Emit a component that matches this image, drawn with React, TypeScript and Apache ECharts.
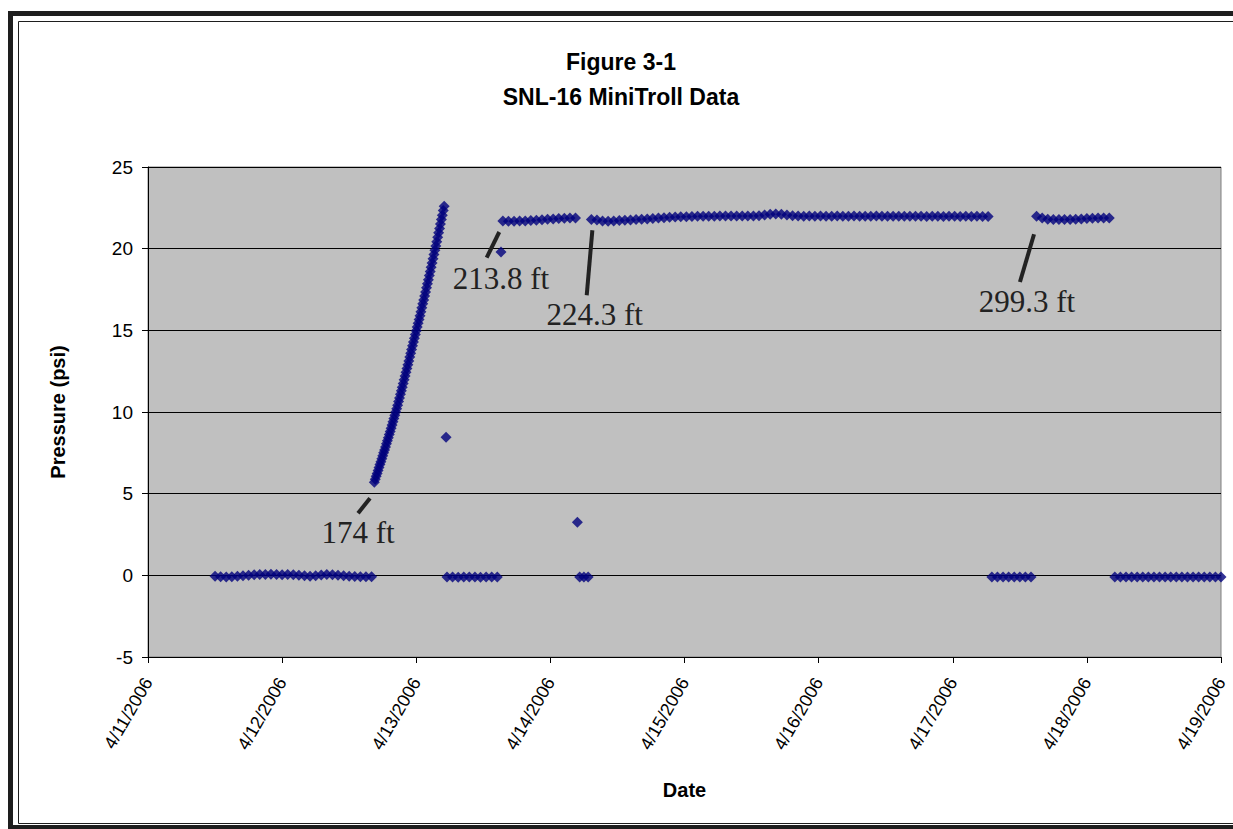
import React, { useEffect, useRef } from "react";
import * as echarts from "echarts";

// ---------- data (times as [day of April, hour, minute], step in minutes) ----------
const xTickLabels = ["4/11/2006", "4/12/2006", "4/13/2006", "4/14/2006", "4/15/2006", "4/16/2006", "4/17/2006", "4/18/2006", "4/19/2006"];
const yMin = -5;
const yMax = 25;
const yStep = 5;

const baseline1Start = [11, 12, 0];
const baseline1Step = 60;
const baseline1 = [-0.05, -0.08, -0.1, -0.08, -0.05, -0.02, 0.0, 0.03, 0.05, 0.05, 0.06, 0.05, 0.04, 0.05, 0.03, 0.0, -0.03, -0.05, -0.02, 0.02, 0.05, 0.03, 0.0, -0.03, -0.05, -0.07, -0.08, -0.08, -0.08];

const rampStart = [12, 16, 30];
const rampStep = 10;
const ramp = [
  5.7,
  5.88, 6.06, 6.24, 6.42, 6.6, 6.78,
  6.96, 7.14, 7.32, 7.5, 7.68, 7.86,
  8.05, 8.24, 8.43, 8.62, 8.81, 9.0,
  9.2, 9.4, 9.6, 9.8, 10.0, 10.2,
  10.42, 10.64, 10.86, 11.08, 11.3, 11.52,
  11.75, 11.98, 12.21, 12.44, 12.67, 12.9,
  13.13, 13.36, 13.59, 13.82, 14.05, 14.28,
  14.51, 14.74, 14.97, 15.2, 15.43, 15.66,
  15.9, 16.14, 16.38, 16.62, 16.86, 17.1,
  17.35, 17.6, 17.85, 18.1, 18.35, 18.6,
  18.86, 19.12, 19.38, 19.64, 19.9, 20.16,
  20.43, 20.7, 20.97, 21.24, 21.51, 21.78,
  22.05, 22.33, 22.6,
];

const baseline2Start = [13, 5, 30];
const baseline2Step = 60;
const baseline2 = [-0.1, -0.1, -0.12, -0.1, -0.1, -0.1, -0.12, -0.1, -0.1, -0.1];

const plateauAStart = [13, 15, 30];
const plateauAStep = 60;
const plateauA = [21.7, 21.68, 21.68, 21.7, 21.7, 21.72, 21.74, 21.77, 21.8, 21.82, 21.84, 21.86, 21.87, 21.88];

const baseline3Start = [14, 5, 15];
const baseline3Step = 45;
const baseline3 = [-0.1, -0.1, -0.1];

const plateauBStart = [14, 7, 20];
const plateauBStep = 60;
const plateauB = [21.78, 21.75, 21.7, 21.68, 21.7, 21.72, 21.74, 21.76, 21.78, 21.8, 21.82, 21.85, 21.88, 21.9, 21.92, 21.94, 21.95, 21.96, 21.97, 21.98, 21.98, 21.98, 21.99, 22.0, 22.0, 22.0, 22.0, 22.0, 22.0, 22.0, 22.02, 22.06, 22.1, 22.12, 22.1, 22.06, 22.02, 22.0, 21.99, 22.0, 21.98, 22.0, 21.99, 21.99, 22.0, 21.98, 21.99, 22.0, 21.99, 21.98, 21.99, 22.0, 21.99, 21.98, 21.98, 21.99, 21.98, 21.99, 21.98, 21.98, 21.97, 21.98, 21.98, 21.97, 21.98, 21.98, 21.97, 21.98, 21.97, 21.98, 21.97, 21.97];

const baseline4Start = [17, 7, 0];
const baseline4Step = 60;
const baseline4 = [-0.1, -0.1, -0.1, -0.1, -0.1, -0.1, -0.1, -0.1];

const plateauCStart = [17, 15, 0];
const plateauCStep = 60;
const plateauC = [21.98, 21.88, 21.8, 21.78, 21.78, 21.78, 21.79, 21.8, 21.82, 21.84, 21.86, 21.87, 21.88, 21.88];

const baseline5Start = [18, 5, 0];
const baseline5Step = 60;
const baseline5 = [-0.1, -0.1, -0.1, -0.1, -0.1, -0.1, -0.1, -0.1, -0.1, -0.1, -0.1, -0.1, -0.1, -0.1, -0.1, -0.1, -0.1, -0.1, -0.1, -0.1];

// single stray readings: [day, hour, minute, psi]
const strayReadings = [
  [13, 5, 20, 8.45],
  [13, 15, 10, 19.8],
  [14, 4, 50, 3.25],
];

// depth annotations: text, leader line from (x1,y1) to (x2,y2) in data units, label centre
const annotationTexts = ["174 ft", "213.8 ft", "224.3 ft", "299.3 ft"];
const annotationLineStart = [[1.655, 4.72], [2.619, 21.02], [3.313, 21.13], [6.606, 20.88]];
const annotationLineEnd = [[1.566, 3.8], [2.525, 19.45], [3.271, 17.15], [6.501, 17.96]];
const annotationLabelAt = [[1.566, 2.6], [2.632, 18.2], [3.33, 15.95], [6.553, 16.78]];

// ---------- helpers ----------
const toX = (day: number, minutes: number) => day - 11 + minutes / 1440;

function segmentPoints(start: number[], step: number, values: number[]) {
  const base = start[1] * 60 + start[2];
  return values.map((v, i) => [toX(start[0], base + i * step), v]);
}

export default function App() {
  const ref = useRef<HTMLDivElement>(null);

  useEffect(() => {
    if (!ref.current) return;
    const chart = echarts.init(ref.current, undefined, { renderer: "svg" });

    const points = [
      ...segmentPoints(baseline1Start, baseline1Step, baseline1),
      ...segmentPoints(rampStart, rampStep, ramp),
      ...segmentPoints(baseline2Start, baseline2Step, baseline2),
      ...segmentPoints(plateauAStart, plateauAStep, plateauA),
      ...segmentPoints(baseline3Start, baseline3Step, baseline3),
      ...segmentPoints(plateauBStart, plateauBStep, plateauB),
      ...segmentPoints(baseline4Start, baseline4Step, baseline4),
      ...segmentPoints(plateauCStart, plateauCStep, plateauC),
      ...segmentPoints(baseline5Start, baseline5Step, baseline5),
      ...strayReadings.map((r) => [toX(r[0], r[1] * 60 + r[2]), r[3]]),
    ];

    const markLines = annotationLineStart.map((s, i) => [
      { coord: s },
      { coord: annotationLineEnd[i] },
    ]);
    const markPoints = annotationTexts.map((t, i) => ({
      name: t,
      coord: annotationLabelAt[i],
    }));

    const frameColor = "#1e1e1e";

    chart.setOption({
      animation: false,
      backgroundColor: "#ffffff",
      title: {
        text: "Figure 3-1\nSNL-16 MiniTroll Data",
        left: 616,
        top: 39,
        textAlign: "center",
        textStyle: {
          fontFamily: "Liberation Sans",
          fontWeight: "bold",
          fontSize: 23,
          lineHeight: 35,
          color: "#000",
        },
      },
      graphic: [
        { type: "rect", silent: true, z: -10, shape: { x: 1227, y: 24, width: 20, height: 797 }, style: { fill: "#ffffff", stroke: "none" } },
        { type: "line", silent: true, shape: { x1: 8, y1: 13.5, x2: 1240, y2: 13.5 }, style: { stroke: frameColor, lineWidth: 5 } },
        { type: "line", silent: true, shape: { x1: 10.5, y1: 11, x2: 10.5, y2: 829 }, style: { stroke: frameColor, lineWidth: 5 } },
        { type: "line", silent: true, shape: { x1: 8, y1: 827, x2: 1240, y2: 827 }, style: { stroke: frameColor, lineWidth: 4 } },
        { type: "line", silent: true, shape: { x1: 18.5, y1: 21.5, x2: 1240, y2: 21.5 }, style: { stroke: frameColor, lineWidth: 1 } },
        { type: "line", silent: true, shape: { x1: 18.5, y1: 21.5, x2: 18.5, y2: 823.5 }, style: { stroke: frameColor, lineWidth: 1 } },
        { type: "line", silent: true, shape: { x1: 18.5, y1: 823.5, x2: 1240, y2: 823.5 }, style: { stroke: frameColor, lineWidth: 1 } },
      ],
      grid: {
        left: 148,
        top: 167,
        width: 1073,
        height: 490,
        show: true,
        backgroundColor: "#C0C0C0",
        borderColor: "#808080",
        borderWidth: 1,
        containLabel: false,
      },
      xAxis: {
        type: "value",
        min: 0,
        max: 8,
        interval: 1,
        name: "Date",
        nameLocation: "middle",
        nameGap: 123,
        nameTextStyle: {
          fontFamily: "Liberation Sans",
          fontWeight: "bold",
          fontSize: 20,
          color: "#000",
        },
        axisLine: { show: true, onZero: false, lineStyle: { color: "#000", width: 1 } },
        axisTick: { show: true, length: 6, lineStyle: { color: "#000" } },
        splitLine: { show: false },
        axisLabel: {
          rotate: 60,
          margin: 22,
          fontFamily: "Liberation Sans",
          fontSize: 18,
          color: "#000",
          formatter: (v: number) => xTickLabels[Math.round(v)] ?? "",
        },
      },
      yAxis: {
        type: "value",
        min: yMin,
        max: yMax,
        interval: yStep,
        name: "Pressure (psi)",
        nameLocation: "middle",
        nameGap: 80,
        nameRotate: 90,
        nameTextStyle: {
          fontFamily: "Liberation Sans",
          fontWeight: "bold",
          fontSize: 20,
          color: "#000",
        },
        axisLine: { show: true, lineStyle: { color: "#000", width: 1 } },
        axisTick: { show: true, length: 6, lineStyle: { color: "#000" } },
        splitLine: { show: true, lineStyle: { color: "#000", width: 1 } },
        axisLabel: {
          margin: 15,
          fontFamily: "Liberation Sans",
          fontSize: 19,
          color: "#000",
        },
      },
      series: [
        {
          type: "scatter",
          symbol: "diamond",
          symbolSize: 11,
          itemStyle: { color: "#00007c" },
          data: points,
          silent: true,
          markLine: {
            silent: true,
            symbol: ["none", "none"],
            label: { show: false },
            lineStyle: { color: "#222", width: 4, type: "solid" },
            emphasis: { disabled: true },
            data: markLines,
          },
          markPoint: {
            silent: true,
            symbol: "rect",
            symbolSize: 1,
            itemStyle: { color: "rgba(0,0,0,0)" },
            label: {
              show: true,
              position: "inside",
              formatter: (p: any) => p.name,
              fontFamily: "Liberation Serif",
              fontSize: 31,
              color: "#222",
            },
            data: markPoints,
          },
        },
      ],
    });

    return () => chart.dispose();
  }, []);

  return (
    <div
      ref={ref}
      style={{ position: "fixed", left: 0, top: 0, width: 1233, height: 829 }}
    />
  );
}
